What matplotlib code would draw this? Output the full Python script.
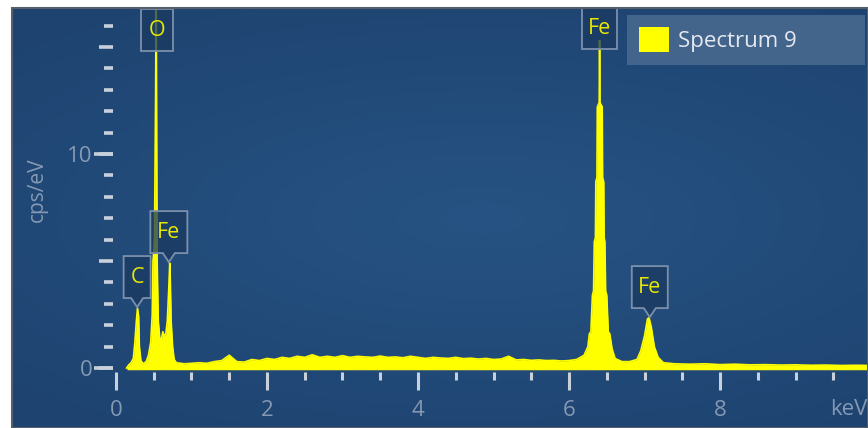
import numpy as np
import matplotlib
matplotlib.use('Agg')
import matplotlib.pyplot as plt
from matplotlib import transforms
from matplotlib.patches import Polygon, Patch, Rectangle

plt.rcParams['font.family'] = ['Open Sans', 'DejaVu Sans']

# EDS spectrum (keV, cps/eV)
energy_kev = [0.14, 0.17, 0.20, 0.23, 0.25, 0.27, 0.285, 0.30, 0.31, 0.33,
              0.36, 0.40, 0.43, 0.46, 0.48, 0.49, 0.50, 0.51, 0.52, 0.525,
              0.532, 0.538, 0.545, 0.56, 0.58, 0.60, 0.62, 0.64, 0.66, 0.68,
              0.70, 0.712, 0.72, 0.73, 0.75, 0.77, 0.80, 0.90, 1.0, 1.1,
              1.2, 1.3, 1.4, 1.5, 1.55, 1.6, 1.7, 1.8, 1.9, 2.0,
              2.1, 2.2, 2.3, 2.4, 2.5, 2.6, 2.7, 2.8, 2.9, 3.0,
              3.1, 3.2, 3.3, 3.4, 3.5, 3.6, 3.7, 3.8, 3.9, 4.0,
              4.1, 4.2, 4.3, 4.4, 4.5, 4.6, 4.7, 4.8, 4.9, 5.0,
              5.1, 5.2, 5.3, 5.4, 5.5, 5.6, 5.7, 5.8, 5.9, 6.0,
              6.1, 6.2, 6.25, 6.27, 6.29, 6.31, 6.325, 6.335, 6.35, 6.355,
              6.37, 6.375, 6.40, 6.405, 6.41, 6.44, 6.445, 6.46, 6.465, 6.475,
              6.485, 6.50, 6.52, 6.54, 6.57, 6.61, 6.7, 6.8,
              6.9, 6.95, 7.0, 7.04, 7.06, 7.09, 7.13, 7.18, 7.25, 7.4,
              7.6, 7.8, 8.0, 8.2, 8.4, 8.6, 8.8, 9.0, 9.2, 9.4,
              9.6, 9.8, 10.0]
cps = [0.0, 0.15, 0.25, 0.45, 1.2, 2.2, 2.8, 2.4, 1.0, 0.35,
       0.2, 0.3, 0.6, 1.2, 2.5, 5.0, 5.4, 6.0, 10.8, 12.9,
       18.0, 12.0, 5.0, 2.2, 1.4, 1.3, 1.7, 1.5, 1.6, 2.2,
       3.8, 4.9, 4.0, 2.2, 1.0, 0.4, 0.25, 0.2, 0.22, 0.25,
       0.22, 0.3, 0.35, 0.6, 0.45, 0.3, 0.28, 0.4, 0.35, 0.45,
       0.4, 0.5, 0.45, 0.55, 0.5, 0.62, 0.5, 0.55, 0.5, 0.58,
       0.5, 0.55, 0.52, 0.5, 0.56, 0.5, 0.52, 0.48, 0.55, 0.5,
       0.45, 0.5, 0.47, 0.45, 0.5, 0.44, 0.46, 0.42, 0.45, 0.4,
       0.42, 0.55, 0.38, 0.4, 0.36, 0.38, 0.35, 0.36, 0.33, 0.35,
       0.4, 0.6, 1.0, 1.6, 1.7, 3.4, 3.6, 5.9, 6.1, 8.7,
       8.9, 12.2, 12.4, 15.3, 12.4, 12.2, 8.9, 8.7, 6.1, 5.9,
       3.6, 3.4, 1.7, 1.6, 0.9, 0.45, 0.3, 0.3,
       0.4, 0.8, 1.5, 2.3, 2.35, 1.9, 1.0, 0.5, 0.25, 0.2,
       0.18, 0.2, 0.16, 0.18, 0.15, 0.16, 0.14, 0.15, 0.13, 0.14,
       0.12, 0.13, 0.12]

# peak labels: element, energy, height of the marker tip, has pointer
label_text = ['C', 'Fe', 'Fe', 'O', 'Fe']
label_x = [0.28, 0.70, 7.07, 0.545, 6.41]
label_y = [2.85, 4.95, 2.38, 14.8, 14.9]
label_w = [27, 37, 36, 32, 35]
label_ptr = [9, 9, 9, 0, 0]

x_major = [0, 2, 4, 6, 8]
x_minor = [0.5, 1, 1.5, 2.5, 3, 3.5, 4.5, 5, 5.5, 6.5, 7, 7.5, 8.5, 9, 9.5]
y_major = [0, 5, 10, 15]
y_major_labels = ['0', '', '10', '']
y_minor = [1, 2, 3, 4, 6, 7, 8, 9, 11, 12, 13, 14, 16]

tick_col = '#c8d0db'
lab_col = '#8599b3'
yellow = '#ffff00'

fig = plt.figure(figsize=(8.68, 4.28), dpi=100)
fig.patch.set_facecolor('white')
ax = fig.add_axes([13 / 868, 0, 855 / 868, 420 / 428])

# blue gradient background
yy, xx = np.mgrid[0:1:120j, 0:1:240j]
t = np.clip(np.hypot((xx - 0.55) * 1.0, (yy - 0.5) * 1.3) / 0.8, 0, 1)
c_mid = np.array([0x26, 0x53, 0x83]) / 255
c_edge = np.array([0x1e, 0x43, 0x70]) / 255
img = c_mid[None, None, :] * (1 - t[..., None]) + c_edge[None, None, :] * t[..., None]
ax.imshow(img, extent=(0, 1, 0, 1), transform=ax.transAxes, aspect='auto',
          origin='lower', zorder=0)
ax.set_xlim(-1.364, 9.96)
ax.set_ylim(-2.80, 16.82)

# spectrum
ax.fill_between(energy_kev, 0, cps, color=yellow, lw=0, zorder=3)
ax.plot(energy_kev, cps, color=yellow, lw=1.2, zorder=3)
ax.hlines(0, min(energy_kev), max(energy_kev), color=yellow, lw=2.5, zorder=3)

# axes / ticks
for s in ax.spines.values():
    s.set_visible(False)
ax.spines['bottom'].set_position(('data', -0.19))
ax.spines['left'].set_position(('data', -0.04))
ax.set_xticks(x_major)
ax.set_xticks(x_minor, minor=True)
ax.set_yticks(y_major, y_major_labels)
ax.set_yticks(y_minor, minor=True)
ax.tick_params(axis='x', which='major', direction='out', length=13, width=2.2,
               color=tick_col, labelcolor=lab_col, labelsize=16, pad=7)
ax.tick_params(axis='x', which='minor', direction='out', length=5.8, width=2.2,
               color=tick_col)
ax.tick_params(axis='y', which='major', direction='out', length=10, width=2.6,
               color=tick_col, labelcolor=lab_col, labelsize=16, pad=5)
ax.tick_params(axis='y', which='minor', direction='out', length=6.5, width=2.6,
               color=tick_col)

loc = (-0.04 + 1.364) / (9.96 + 1.364)
sec = ax.secondary_yaxis(loc)
sec.set_yticks([0, 10], ['', ''])
sec.tick_params(axis='y', direction='out', length=13.7, width=2.6, color=tick_col)
for s in sec.spines.values():
    s.set_visible(False)

ax.text(9.71, 0.043, 'keV', transform=ax.get_xaxis_transform(), ha='center',
        va='center', color=lab_col, fontsize=16)
ax.text(0.029, 0.567, 'cps/eV', transform=ax.transAxes, rotation=90,
        ha='center', va='center', color=lab_col, fontsize=15)

# element label boxes
px = transforms.Affine2D().scale(1 / fig.dpi)
box_h = 42
for txt, x, y, w, p in zip(label_text, label_x, label_y, label_w, label_ptr):
    tr = px + fig.dpi_scale_trans + transforms.ScaledTranslation(x, y, ax.transData)
    if p:
        verts = [(0, 0), (-6, p), (-w / 2, p), (-w / 2, p + box_h),
                 (w / 2, p + box_h), (w / 2, p), (6, p)]
    else:
        verts = [(-w / 2, 0), (-w / 2, box_h), (w / 2, box_h), (w / 2, 0)]
    ax.add_patch(Polygon(verts, closed=True, transform=tr, facecolor='#1a3a60',
                         alpha=0.75, edgecolor='none', zorder=4))
    ax.add_patch(Polygon(verts, closed=True, transform=tr, facecolor='none',
                         edgecolor='#7b90ab', lw=1.3, zorder=5))
    ax.text(0, p + box_h / 2, txt, transform=tr, ha='center', va='center',
            color='#e8e800', fontsize=15.5, zorder=6)

# legend
leg = ax.legend(handles=[Patch(facecolor=yellow, edgecolor='none', label='Spectrum 9')],
                loc='upper left', bbox_to_anchor=(0.718, 0.983 - 0.136, 0.278, 0.136),
                mode='expand', borderaxespad=0, fontsize=16, handlelength=1.35,
                handleheight=1.35, handletextpad=0.4, borderpad=0.55,
                fancybox=False, framealpha=0.85, facecolor='#4a6a90',
                edgecolor='none', labelcolor='#e4e9f0')
leg.set_zorder(7)

# panel frame
fig.add_artist(Rectangle((12 / 868, 0), 856 / 868, 420.5 / 428, transform=fig.transFigure,
                         fill=False, edgecolor='#55606c', lw=1.5))

plt.savefig('out.png', dpi=100)
